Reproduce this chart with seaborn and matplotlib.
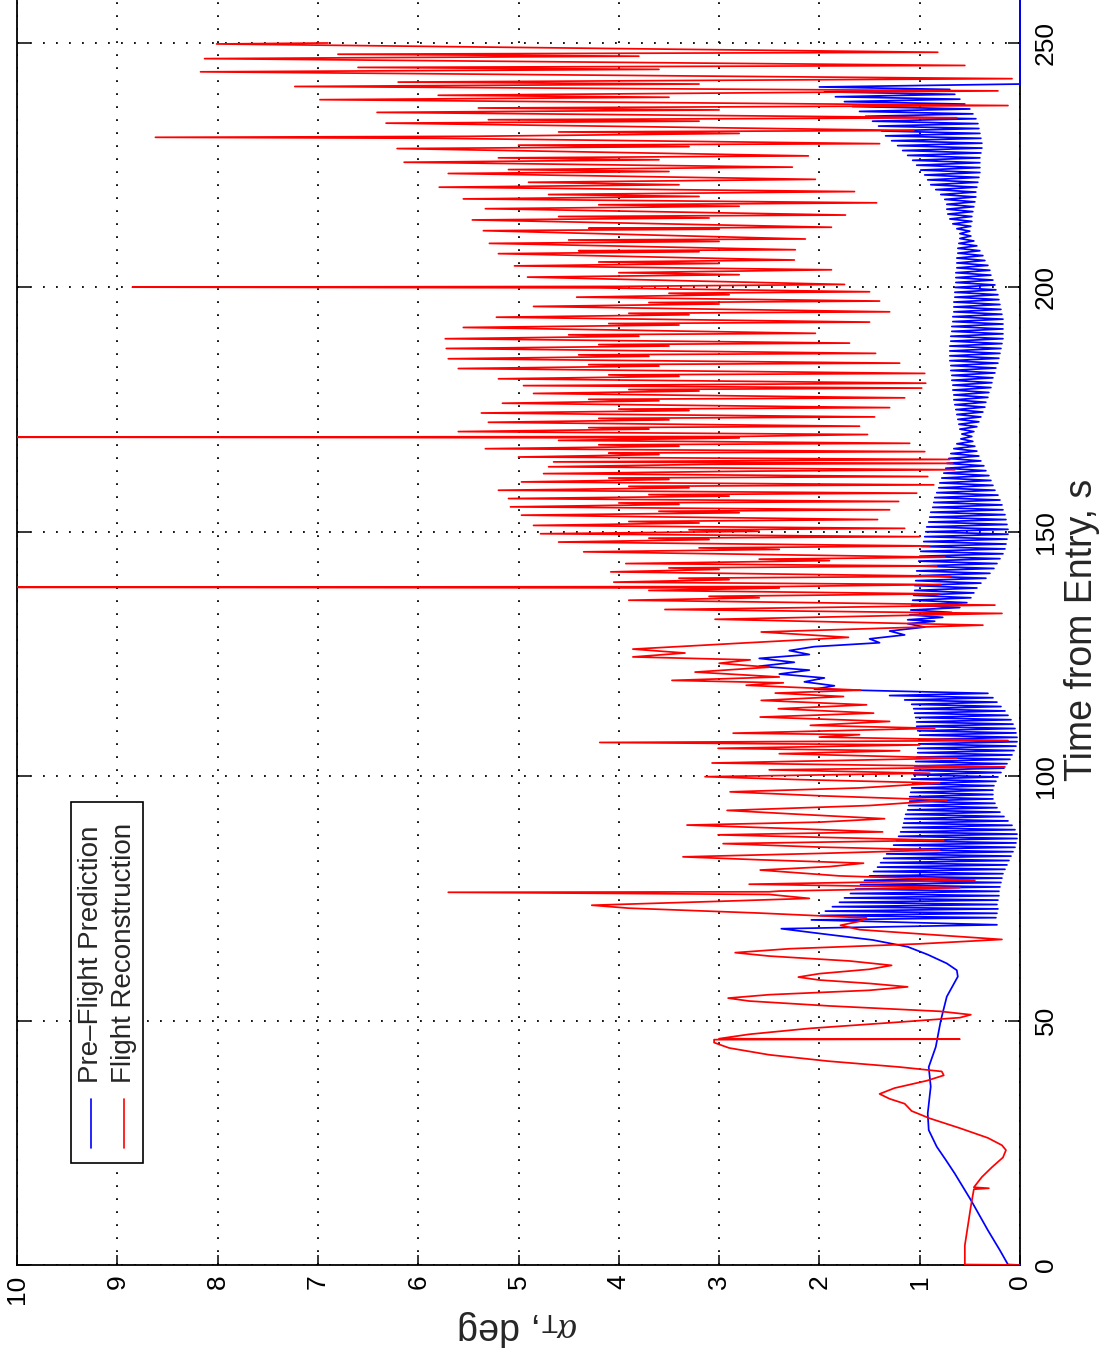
import numpy as np
import pandas as pd
import matplotlib
matplotlib.use("Agg")
import matplotlib.pyplot as plt
import seaborn as sns
from matplotlib.patches import Rectangle

# ---------------- data (time s, alpha_T deg) ----------------
red_seg1 = [(0.0, 0.0), (0.1, 0.55), (4, 0.55), (8, 0.52), (12, 0.49), (15.5, 0.46), (15.7, 0.31), (15.9, 0.46),
            (18, 0.38), (20, 0.28), (22, 0.17), (23.5, 0.14), (24.5, 0.18), (26, 0.32), (28, 0.6), (30, 0.9),
            (31.5, 1.08), (33, 1.15), (34, 1.3), (35, 1.40), (36.2, 1.25), (37.7, 0.93), (38.8, 0.76), (39.6, 0.78),
            (40.5, 1.2), (41.7, 1.91), (43, 2.5), (44.4, 2.9), (45.5, 3.05), (46.1, 3.05), (46.2, 0.6), (46.3, 3.0),
            (47.2, 2.7), (48.4, 2.1), (49.7, 1.2), (50.6, 0.6), (51.2, 0.49), (51.9, 0.8), (53, 1.9), (54.0, 2.7),
            (54.6, 2.91), (55.3, 2.5), (56.2, 1.5), (56.9, 1.12), (57.6, 1.5), (58.3, 2.0), (58.9, 2.21), (59.6, 2.0),
            (60.5, 1.5), (61.3, 1.28), (62.2, 1.7), (63.2, 2.5), (63.9, 2.84), (64.7, 2.3), (65.7, 1.0), (66.6, 0.18)]
red_seg2 = [(67.6, 0.9), (68.6, 1.6), (69.5, 1.79), (70.3, 1.6), (71.0, 1.53), (72.0, 2.6), (73.0, 3.9), (73.6, 4.27),
            (74.4, 3.0), (75.0, 2.1), (75.8, 2.5), (76.25, 5.7), (76.35, 2.5), (76.5, 2.4), (77.2, 0.6), (77.9, 2.7),
            (78.7, 0.45), (79.6, 1.8), (80.8, 2.59), (81.5, 1.9), (82.2, 1.56), (82.9, 2.6), (83.5, 3.36), (84.2, 2.0),
            (84.9, 0.80), (85.5, 2.0), (86.2, 2.96), (86.9, 0.76), (88.0, 3.01), (88.6, 1.37), (89.3, 2.3), (90.0, 3.32),
            (90.6, 2.0), (91.3, 1.35), (92.2, 2.2), (93.0, 2.92), (94.0, 1.5), (95.1, 0.73), (96.0, 2.0), (96.8, 2.89)]
red_seg3 = [(97.6, 1.6), (98.6, 0.80), (99.3, 2.2), (99.9, 3.14), (100.6, 0.90), (101.3, 2.5), (101.9, 0.15),
            (102.7, 3.07), (103.7, 0.63), (104.6, 2.4), (105.2, 1.2), (105.7, 3.01), (106.4, 1.0), (106.9, 4.19),
            (107.3, 0.12), (108.0, 2.0), (108.5, 1.6), (108.8, 2.86), (109.8, 0.85), (110.4, 2.09), (111.2, 1.3),
            (112.1, 2.59), (112.9, 1.46), (113.8, 2.41), (114.6, 1.53), (115.5, 2.58), (116.3, 1.76), (117.0, 2.44),
            (117.6, 1.59), (118.6, 2.73), (119.1, 2.36), (119.6, 3.47), (120.3, 2.4), (121.3, 3.24), (122.3, 2.5),
            (123.1, 3.0), (123.8, 2.69), (124.4, 3.86), (125.2, 3.34), (126.0, 3.86), (127.2, 2.8), (128.4, 1.71),
            (129.5, 2.58), (130.9, 0.37), (132.1, 3.04), (133.3, 0.18), (134.1, 3.54), (135.0, 0.25)]
red_seg4 = [(136.0, 3.90), (136.5, 2.60), (136.8, 3.10), (137.3, 0.80), (138.0, 3.70), (138.5, 2.40), (138.65, 10.0),
            (138.8, 2.40), (139.2, 0.79), (139.7, 4.05), (140.2, 2.90), (140.5, 3.40), (140.9, 0.69), (141.8, 4.08),
            (142.3, 3.00), (142.6, 3.50), (143.0, 0.83), (143.5, 3.93), (144.1, 1.90), (144.4, 2.60), (144.8, 0.75),
            (145.9, 4.35), (146.4, 2.40), (146.7, 3.20), (147.1, 0.90), (147.9, 4.60), (148.4, 3.10), (148.7, 3.70),
            (149.0, 1.00), (149.6, 4.78), (150.1, 2.60), (150.4, 3.30), (150.7, 1.15), (151.3, 4.85), (151.8, 3.20),
            (152.1, 3.90), (152.5, 1.42), (153.4, 4.97), (153.9, 2.80), (154.2, 3.60), (154.5, 1.30), (155.1, 5.08),
            (155.6, 3.40), (155.9, 4.00), (156.2, 1.21), (156.8, 5.10), (157.3, 2.90), (157.6, 3.70), (157.9, 1.03),
            (158.5, 5.20), (159.0, 3.30), (159.3, 3.90), (159.6, 0.86), (160.2, 4.97), (160.7, 3.50), (161.0, 4.10),
            (161.3, 0.92), (161.9, 4.75), (162.4, 2.70), (162.7, 0.65), (163.3, 4.70), (163.8, 3.10), (164.0, 0.67),
            (164.3, 4.65), (164.8, 0.70), (165.3, 5.00), (165.8, 3.60), (166.1, 4.10), (166.4, 0.95), (167.0, 5.33),
            (167.5, 3.40), (167.8, 4.20), (168.1, 1.10), (168.7, 4.60), (169.2, 2.80), (169.35, 10.0), (169.5, 2.80),
            (169.9, 1.52), (170.5, 5.60), (171.0, 3.70), (171.3, 4.30), (171.6, 1.60), (172.4, 5.30), (172.9, 3.50),
            (173.2, 4.20), (173.5, 1.45), (174.3, 5.37), (174.8, 3.30), (175.1, 4.00), (175.4, 1.30), (176.3, 5.16),
            (176.8, 3.60), (177.1, 4.30), (177.4, 1.15), (178.3, 4.85), (178.8, 3.20), (179.1, 3.90), (179.4, 0.98),
            (179.9, 4.95), (180.4, 0.94), (181.3, 5.20), (181.8, 3.40), (182.1, 4.10), (182.4, 0.95), (183.4, 5.60),
            (183.9, 3.60), (184.2, 4.30), (184.5, 1.20), (185.4, 5.70), (185.9, 3.70), (186.2, 4.40), (186.5, 1.44),
            (187.5, 5.72), (188.0, 3.50), (188.3, 4.20), (188.6, 1.70), (189.5, 5.73), (190.0, 3.80), (190.3, 4.50),
            (190.6, 2.04), (191.8, 5.55), (192.3, 3.40), (192.6, 4.10), (192.9, 1.50), (193.9, 5.22), (194.4, 3.30),
            (194.7, 3.90), (195.0, 1.30), (196.1, 4.85), (196.6, 3.00), (196.9, 3.70), (197.2, 1.40), (198.0, 4.42),
            (198.5, 2.90), (198.8, 3.50), (199.1, 1.50), (199.9, 4.20), (200.05, 8.85), (200.2, 4.00), (200.6, 1.75)]
red_seg5 = [(202.1, 4.91), (202.6, 2.80), (203.0, 4.00), (203.6, 1.88), (204.4, 5.04), (204.9, 3.00), (205.2, 4.20),
            (205.6, 2.25), (206.9, 5.20), (207.3, 3.20), (207.5, 4.40), (207.7, 2.24), (209.0, 5.29), (209.4, 3.00),
            (209.7, 4.50), (209.9, 2.14), (211.6, 5.35), (211.9, 3.00), (212.1, 4.30), (212.3, 1.88), (213.8, 5.46),
            (214.2, 3.10), (214.5, 4.60), (214.8, 1.74), (216.1, 5.33), (216.6, 2.80), (216.9, 4.20), (217.3, 1.43),
            (218.1, 5.55), (218.6, 3.20), (219.0, 4.70), (219.6, 1.65), (220.5, 5.79), (221.0, 3.40), (221.5, 4.90),
            (222.1, 2.04), (223.3, 5.70), (223.7, 3.50), (224.1, 5.10), (224.6, 2.27), (225.6, 6.14), (226.1, 3.60),
            (226.5, 5.20), (226.9, 2.11), (228.4, 6.21), (228.8, 3.30), (229.1, 5.00), (229.4, 1.40), (230.5, 5.80),
            (230.7, 8.62), (230.9, 5.50), (231.5, 2.80), (231.8, 4.60), (232.1, 1.06), (233.6, 6.32), (234.0, 3.20),
            (234.3, 5.30), (234.7, 0.63), (235.8, 6.41), (236.3, 3.00), (236.7, 5.40), (237.2, 0.12), (238.4, 6.98),
            (238.9, 3.50), (239.3, 5.80), (240.2, 0.22), (241.1, 7.23), (241.6, 3.20), (242.0, 6.20), (242.7, 0.08),
            (244.1, 8.17), (244.6, 3.60), (245.0, 6.60), (245.4, 0.55), (246.8, 8.13), (247.3, 3.80), (247.7, 6.80),
            (248.1, 0.82), (249.8, 8.01), (250.0, 6.90)]

blue_smooth = [(0.0, 0.0), (0.1, 0.12), (3, 0.2), (7.1, 0.32), (10, 0.40), (13.3, 0.49), (16, 0.57), (18.7, 0.65),
               (21.5, 0.74), (24.2, 0.83), (27.6, 0.91), (31, 0.92), (36.5, 0.89), (40.5, 0.91), (44.6, 0.84),
               (50, 0.79), (54.9, 0.73), (59, 0.62), (60.3, 0.63), (61.7, 0.73), (63.5, 0.92), (65.1, 1.12),
               (66.5, 1.47), (67.7, 1.95), (68.8, 2.38), (69.6, 0.23)]
# fast coning oscillation 70.6 s - 117 s, one peak/trough per cycle
blue_cycle1_start, blue_cycle1_period = 70.6, 0.9
blue_peaks_1 = [2.08, 1.99, 1.94, 1.87, 1.80, 1.75, 1.69, 1.64, 1.59, 1.55,
                1.50, 1.46, 1.42, 1.39, 1.36, 1.33, 1.29, 1.26, 1.23, 1.21,
                1.19, 1.17, 1.16, 1.15, 1.14, 1.12, 1.11, 1.10, 1.10, 1.09,
                1.08, 1.07, 1.08, 1.06, 1.05, 1.05, 1.04, 1.03, 1.02, 1.02,
                1.01, 1.01, 1.00, 1.02, 1.03, 1.03, 1.04, 1.05, 1.06, 1.08, 1.15, 1.30]
blue_troughs_1 = [0.24, 0.23, 0.22, 0.23, 0.22, 0.21, 0.21, 0.20, 0.19, 0.18,
                  0.17, 0.15, 0.13, 0.11, 0.09, 0.07, 0.05, 0.04, 0.03, 0.03,
                  0.05, 0.08, 0.12, 0.16, 0.20, 0.23, 0.25, 0.27, 0.27, 0.27,
                  0.26, 0.24, 0.22, 0.19, 0.16, 0.13, 0.10, 0.08, 0.06, 0.04,
                  0.03, 0.03, 0.04, 0.05, 0.07, 0.09, 0.12, 0.15, 0.19, 0.23, 0.27, 0.32]
blue_wiggle = [(117.8, 2.05), (118.5, 1.85), (119.3, 2.15), (120.1, 1.95), (120.9, 2.4), (121.7, 2.1), (122.5, 2.6),
               (123.3, 2.25), (124.1, 2.6), (124.9, 2.1), (125.7, 2.3), (126.5, 2.05), (127.3, 1.4), (128.1, 1.5),
               (128.9, 1.15), (129.7, 1.3), (130.5, 0.95), (131.2, 1.12), (131.7, 0.85)]
blue_cycle2_start, blue_cycle2_period = 132.0, 1.0
blue_peaks_2 = [1.12, 1.10, 1.09, 1.08, 1.07, 1.06, 1.05, 1.05, 1.04, 1.04,
                1.03, 1.02, 1.01, 1.00, 0.99, 0.98, 0.96, 0.95, 0.94, 0.93,
                0.91, 0.90, 0.89, 0.87, 0.86, 0.85, 0.83, 0.81, 0.80, 0.78,
                0.76, 0.74, 0.73, 0.71, 0.69, 0.66, 0.63, 0.59, 0.58, 0.60,
                0.61, 0.62, 0.63, 0.64, 0.65, 0.66, 0.66, 0.67, 0.67, 0.68,
                0.68, 0.69, 0.69, 0.70, 0.70, 0.70, 0.70, 0.69, 0.69, 0.68,
                0.68, 0.67, 0.67, 0.66, 0.66, 0.66, 0.65, 0.65, 0.65, 0.64,
                0.64, 0.64, 0.63, 0.63, 0.63, 0.62, 0.62, 0.61, 0.60, 0.60,
                0.63, 0.67, 0.70, 0.72, 0.73, 0.73, 0.75, 0.79, 0.84, 0.89,
                0.92, 0.95, 0.99, 1.03, 1.07, 1.12, 1.17, 1.22, 1.28, 1.34,
                1.38, 1.41, 1.47, 1.54, 1.60, 1.67, 1.75, 1.84, 1.95]
blue_troughs_2 = [0.77, 0.68, 0.60, 0.53, 0.49, 0.46, 0.43, 0.39, 0.34, 0.30,
                  0.26, 0.23, 0.20, 0.17, 0.15, 0.14, 0.13, 0.12, 0.12, 0.13,
                  0.14, 0.15, 0.17, 0.18, 0.20, 0.22, 0.25, 0.27, 0.29, 0.31,
                  0.34, 0.36, 0.39, 0.41, 0.43, 0.45, 0.47, 0.48, 0.46, 0.43,
                  0.41, 0.39, 0.37, 0.35, 0.34, 0.32, 0.31, 0.29, 0.28, 0.27,
                  0.25, 0.24, 0.22, 0.21, 0.20, 0.19, 0.18, 0.17, 0.17, 0.17,
                  0.17, 0.17, 0.18, 0.19, 0.20, 0.21, 0.22, 0.24, 0.25, 0.27,
                  0.29, 0.30, 0.32, 0.35, 0.37, 0.40, 0.43, 0.46, 0.49, 0.50,
                  0.49, 0.48, 0.48, 0.47, 0.46, 0.45, 0.44, 0.44, 0.43, 0.42,
                  0.41, 0.40, 0.40, 0.40, 0.40, 0.39, 0.38, 0.38, 0.39, 0.40,
                  0.41, 0.42, 0.44, 0.47, 0.50, 0.55, 0.60, 0.65, 0.70]
blue_end = [(241.0, 2.0), (241.6, 0.0), (260.0, 0.0)]

alpha_ticks = list(range(0, 11))
time_ticks = [0, 50, 100, 150, 200, 250]
series_names = ["Pre\u2013Flight Prediction", "Flight Reconstruction"]


def cycles(start, period, peaks, troughs):
    pts = []
    for k, (p, q) in enumerate(zip(peaks, troughs)):
        t0 = start + period * k
        pts.append((t0, p))
        pts.append((t0 + period / 2, q))
    return pts


red_pts = red_seg1 + red_seg2 + red_seg3 + red_seg4 + red_seg5
blue_pts = (blue_smooth + cycles(blue_cycle1_start, blue_cycle1_period, blue_peaks_1, blue_troughs_1)
            + blue_wiggle + cycles(blue_cycle2_start, blue_cycle2_period, blue_peaks_2, blue_troughs_2) + blue_end)

red_df = pd.DataFrame(red_pts, columns=["time", "alpha"])
blue_df = pd.DataFrame(blue_pts, columns=["time", "alpha"])

# ---------------- style ----------------
sns.set_theme(style="white")
plt.rcParams["font.family"] = ["Liberation Sans", "DejaVu Sans"]
plt.rcParams["mathtext.fontset"] = "custom"
plt.rcParams["mathtext.rm"] = "Liberation Sans"
plt.rcParams["mathtext.it"] = "Liberation Serif:italic"

W, H = 1105, 1361
fig = plt.figure(figsize=(W / 100, H / 100), dpi=100)
fig.patch.set_facecolor("white")
ax_h = 1270.9
ax = fig.add_axes([17 / W, 96 / H, 1003 / W, ax_h / H])
ax.set_facecolor("white")

sns.lineplot(data=blue_df, x="alpha", y="time", sort=False, estimator=None, color=(0, 0, 1),
             linewidth=1.25, ax=ax, zorder=3, clip_on=False)
sns.lineplot(data=red_df, x="alpha", y="time", sort=False, estimator=None, color=(1, 0, 0),
             linewidth=1.25, ax=ax, zorder=3.1)

ax.set_xlim(10, 0)
ax.set_ylim(0, 260)
ax.set_xticks(alpha_ticks)
ax.set_xticklabels([str(v) for v in alpha_ticks])
ax.set_yticks(time_ticks)
ax.set_yticklabels([str(v) for v in time_ticks])

ax.grid(True, color="black", linestyle=(0, (1, 6.2)), linewidth=1.3)
ax.set_axisbelow(True)

for side in ["left", "right", "bottom"]:
    ax.spines[side].set_visible(True)
    ax.spines[side].set_color("black")
    ax.spines[side].set_linewidth(1.3)
ax.spines["top"].set_visible(False)

ax.tick_params(axis="x", direction="in", length=7, width=1.1, colors="black", bottom=True, top=False,
               labelsize=19, labelrotation=90, pad=7)
ax.tick_params(axis="y", direction="in", length=9, width=1.1, colors="black", left=True, right=True,
               labelleft=False, labelright=True, labelsize=19, labelrotation=90, pad=10)
for lbl in ax.get_yticklabels():
    lbl.set_va("center")
for lbl in ax.get_xticklabels():
    lbl.set_ha("center")
    lbl.set_va("top")

# axis labels (chart is rotated 90 degrees)
ax.set_xlabel(r"$\alpha_{\mathrm{T}}$, deg", fontsize=27)
ax.xaxis.label.set_rotation(180)
ax.xaxis.label.set_rotation_mode("anchor")
ax.xaxis.label.set_ha("center")
ax.xaxis.label.set_va("center")
ax.xaxis.set_label_coords(0.5, -(1328 - 1265) / ax_h)

ax.yaxis.set_label_position("right")
ax.set_ylabel("Time from Entry, s", fontsize=27)
ax.yaxis.label.set_rotation(90)
ax.yaxis.label.set_rotation_mode("anchor")
ax.yaxis.label.set_ha("center")
ax.yaxis.label.set_va("center")
ax.yaxis.set_label_coords((1082 - 17) / 1003, (1265 - 630) / ax_h)


# legend (rotated)
def fx(px):
    return (px - 17) / 1003


def fy(py):
    return (1265 - py) / ax_h


ax.add_patch(Rectangle((fx(71), fy(1163)), fx(143) - fx(71), fy(802) - fy(1163), transform=ax.transAxes,
                       facecolor="white", edgecolor="black", linewidth=1.2, zorder=6))
ax.plot([fx(91), fx(91)], [fy(1148), fy(1099)], transform=ax.transAxes, color=(0, 0, 1), lw=1.2, zorder=7)
ax.plot([fx(124), fx(124)], [fy(1148), fy(1099)], transform=ax.transAxes, color=(1, 0, 0), lw=1.2, zorder=7)
ax.text(fx(91), fy(1083), series_names[0], rotation=90, ha="center", va="bottom", fontsize=20,
        transform=ax.transAxes, zorder=7)
ax.text(fx(124), fy(1083), series_names[1], rotation=90, ha="center", va="bottom", fontsize=20,
        transform=ax.transAxes, zorder=7)

fig.savefig("out.png", dpi=100, facecolor="white")
